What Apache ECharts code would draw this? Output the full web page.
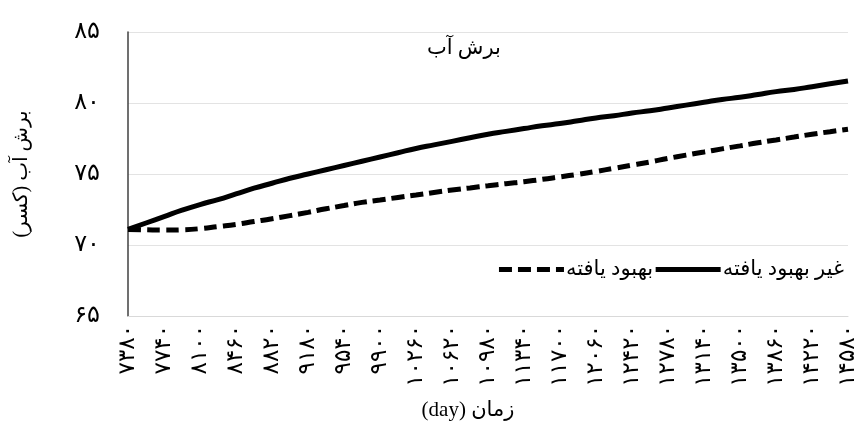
<!DOCTYPE html>
<html>
<head>
<meta charset="utf-8">
<script src="https://cdn.jsdelivr.net/npm/echarts@6/dist/echarts.min.js"></script>
<style>html,body{margin:0;padding:0;background:#fff}#c{width:863px;height:423px}</style>
</head>
<body>
<div id="c"></div>
<script>
// Time (day) categories, every 180 days; labels shown every 360 days
const days = [7380,7560,7740,7920,8100,8280,8460,8640,8820,9000,9180,9360,9540,9720,9900,10080,10260,10440,10620,10800,10980,11160,11340,11520,11700,11880,12060,12240,12420,12600,12780,12960,13140,13320,13500,13680,13860,14040,14220,14400,14580];

// غیر بهبود یافته (solid)
const nonImproved = [71.1,71.55,72.0,72.45,72.85,73.2,73.6,74.0,74.35,74.7,75.0,75.3,75.6,75.9,76.2,76.5,76.8,77.05,77.3,77.55,77.8,78.0,78.2,78.4,78.55,78.75,78.95,79.1,79.3,79.45,79.65,79.85,80.05,80.25,80.4,80.6,80.8,80.95,81.15,81.35,81.55];

// بهبود یافته (dashed)
const improved = [71.1,71.07,71.05,71.07,71.15,71.3,71.45,71.65,71.85,72.07,72.3,72.55,72.78,73.0,73.17,73.35,73.52,73.7,73.87,74.02,74.17,74.32,74.46,74.62,74.8,74.98,75.18,75.4,75.62,75.85,76.1,76.33,76.55,76.77,76.98,77.2,77.4,77.6,77.8,77.98,78.15];

const yTicks = [65, 70, 75, 80, 85];

const fa = s => String(s).replace(/\d/g, d => '۰۱۲۳۴۵۶۷۸۹'[d]);
const FONT = "'Liberation Serif', 'DejaVu Sans', serif";

const chart = echarts.init(document.getElementById('c'), null, {renderer: 'canvas'});
chart.setOption({
  animation: false,
  backgroundColor: '#ffffff',
  title: {
    text: 'برش آب',
    left: 422, top: 33,
    textStyle: {fontFamily: FONT, fontSize: 21, fontWeight: 'normal', color: '#000'}
  },
  legend: {
    right: 14, top: 254,
    itemGap: 0,
    itemWidth: 65, itemHeight: 8,
    itemStyle: {opacity: 0},
    lineStyle: {width: 5},
    textStyle: {fontFamily: FONT, fontSize: 21, color: '#000', padding: [0, 0, 0, -3]},
    data: ['بهبود یافته', 'غیر بهبود یافته']
  },
  grid: {left: 128, right: 15, top: 32, bottom: 107, containLabel: false, outerBoundsMode: 'none'},
  xAxis: {
    type: 'category',
    data: days,
    boundaryGap: false,
    name: '(day) زمان',
    nameLocation: 'middle',
    nameGap: 84,
    nameTextStyle: {fontFamily: FONT, fontSize: 21, color: '#000', padding: [0, 40, 0, 0]},
    axisLine: {show: true, lineStyle: {color: '#d9d9d9', width: 1}},
    axisTick: {show: false},
    axisLabel: {
      interval: 1,
      rotate: 90,
      margin: 9,
      fontFamily: FONT, fontSize: 23, color: '#000',
      formatter: v => fa(v)
    },
    splitLine: {show: false}
  },
  yAxis: {
    type: 'value',
    min: yTicks[0], max: yTicks[yTicks.length - 1], interval: 5,
    name: 'برش آب (کسر)\u200F',
    nameLocation: 'middle',
    nameGap: 82,
    nameTextStyle: {fontFamily: FONT, fontSize: 20, color: '#000', padding: [0, 0, 14, 0]},
    axisLine: {show: true, lineStyle: {color: '#404040', width: 1.5}},
    axisTick: {show: false},
    axisLabel: {margin: 28, fontFamily: FONT, fontSize: 24, color: '#000', formatter: v => fa(v)},
    splitLine: {show: true, lineStyle: {color: '#e3e3e3', width: 1.2}}
  },
  series: [
    {
      name: 'غیر بهبود یافته',
      type: 'line',
      data: nonImproved,
      smooth: true,
      symbol: 'none',
      lineStyle: {color: '#000', width: 5, cap: 'butt'},
      itemStyle: {color: '#000'},
      z: 3
    },
    {
      name: 'بهبود یافته',
      type: 'line',
      data: improved,
      smooth: true,
      symbol: 'none',
      lineStyle: {color: '#000', width: 5, type: [13, 6], cap: 'butt'},
      itemStyle: {color: '#000'},
      z: 2
    }
  ]
});
</script>
</body>
</html>
